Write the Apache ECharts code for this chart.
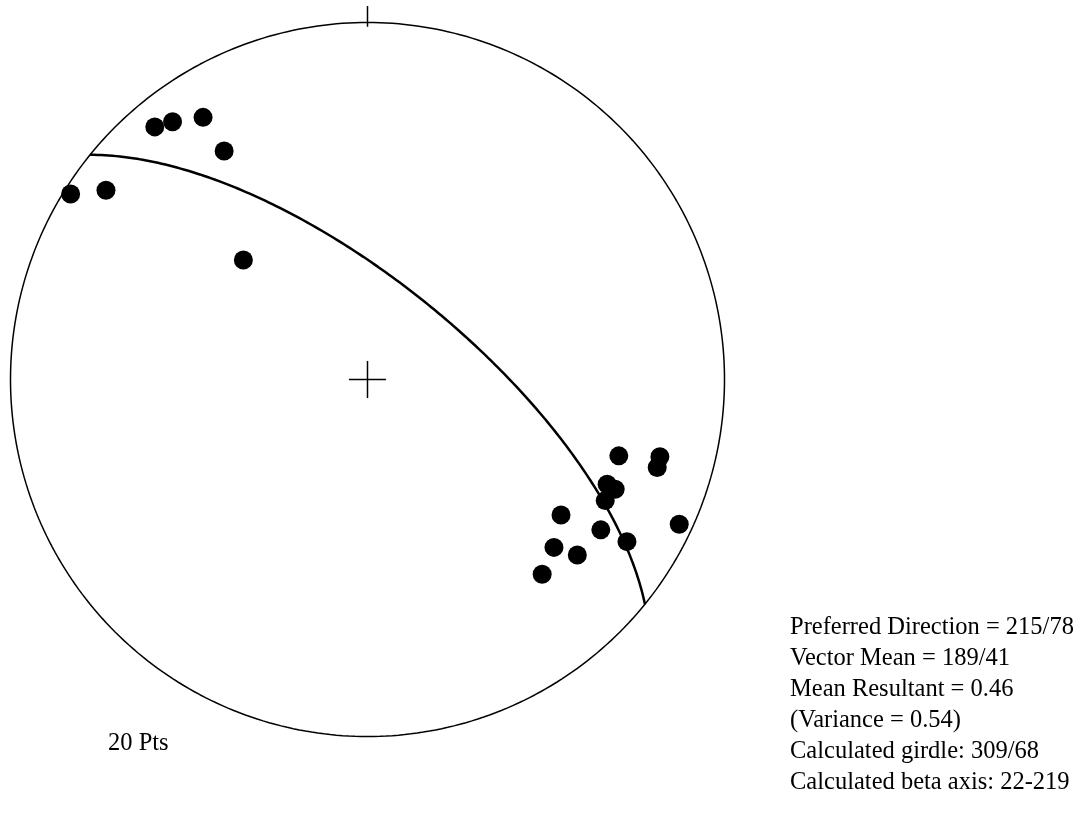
<!DOCTYPE html>
<html>
<head>
<meta charset="utf-8">
<title>Stereonet</title>
<script src="https://cdn.jsdelivr.net/npm/echarts/dist/echarts.min.js"></script>
<style>
  html, body { margin: 0; padding: 0; background: #ffffff; }
  #chart { width: 1086px; height: 831px; }
</style>
</head>
<body>
<div id="chart"></div>
<script>
// Measured lineations: trend and plunge in degrees (lower hemisphere)
const trends  = [302.0, 305.9, 319.9, 322.9, 327.9, 327.9, 313.9, 106.9, 104.8, 106.9,
                 113.6, 113.9, 117.0, 125.0, 122.8, 122.0, 114.9, 132.0, 129.9, 138.1];
const plunges = [  2.2,  10.5,   8.3,  10.4,  14.4,  25.4,  50.1,  27.3,  16.4,  16.3,
                  27.6,  25.1,  26.2,  34.2,  23.3,  15.4,   4.2,  30.4,  24.4,  27.6];

// Best-fit girdle (strike/dip, right-hand rule)
const girdleStrike = 309;
const girdleDip = 68;

// Summary statistics printed beside the net
const statsLines = [
  'Preferred Direction = 215/78',
  'Vector Mean = 189/41',
  'Mean Resultant = 0.46',
  '(Variance = 0.54)',
  'Calculated girdle: 309/68',
  'Calculated beta axis: 22-219'
];
const countLabel = '20 Pts';

const RAD = Math.PI / 180;

// Lambert equal-area (Schmidt) projection, unit primitive circle
function project(trend, plunge) {
  const r = Math.SQRT2 * Math.sin((90 - plunge) / 2 * RAD);
  return [r * Math.sin(trend * RAD), r * Math.cos(trend * RAD)];
}

// Primitive circle: horizontal lines all round the compass
const primitive = [];
for (let az = 0; az <= 360; az += 1) primitive.push(project(az, 0));

// Great circle of the girdle plane, traced from strike to strike + 180
function greatCircle(strike, dip) {
  const dd = strike + 90;
  const s = [Math.sin(strike * RAD), Math.cos(strike * RAD), 0];
  const d = [Math.sin(dd * RAD) * Math.cos(dip * RAD),
             Math.cos(dd * RAD) * Math.cos(dip * RAD),
             Math.sin(dip * RAD)];
  const pts = [];
  for (let a = 0; a <= 180; a += 1) {
    const c = Math.cos(a * RAD), sn = Math.sin(a * RAD);
    let e = c * s[0] + sn * d[0];
    let n = c * s[1] + sn * d[1];
    let z = c * s[2] + sn * d[2];
    if (z < 0) { e = -e; n = -n; z = -z; }
    const pl = Math.asin(Math.min(1, z)) / RAD;
    const tr = Math.atan2(e, n) / RAD;
    pts.push(project(tr, pl));
  }
  return pts;
}

const poles = trends.map((t, i) => project(t, plunges[i]));

const ink = '#000000';
function segment(data, width) {
  return {
    type: 'line', data: data, symbol: 'none', silent: true, clip: false,
    lineStyle: { color: ink, width: width }, z: 2
  };
}

const chart = echarts.init(document.getElementById('chart'));
chart.setOption({
  animation: false,
  backgroundColor: '#ffffff',
  grid: { left: 10.5, top: 22.5, width: 714, height: 714 },
  xAxis: { type: 'value', min: -1, max: 1, show: false },
  yAxis: { type: 'value', min: -1, max: 1, show: false },
  series: [
    segment(primitive, 1.5),
    segment(greatCircle(girdleStrike, girdleDip), 2.5),
    // north tick
    segment([[0, 0.988], [0, 1.046]], 1.5),
    // centre cross
    segment([[-0.052, 0], [0.052, 0]], 1.5),
    segment([[0, -0.052], [0, 0.052]], 1.5),
    {
      type: 'scatter', data: poles, symbol: 'circle', symbolSize: 19,
      clip: false,
      itemStyle: { color: ink, opacity: 1 }, z: 3
    }
  ],
  graphic: [
    {
      type: 'text', left: 790, top: 612,
      style: {
        text: statsLines.join('\n'),
        font: '24.5px "Liberation Serif", "Times New Roman", serif',
        lineHeight: 31, fill: ink
      }
    },
    {
      type: 'text', left: 108, top: 731,
      style: {
        text: countLabel,
        font: '24.5px "Liberation Serif", "Times New Roman", serif',
        fill: ink
      }
    }
  ]
});
</script>
</body>
</html>
